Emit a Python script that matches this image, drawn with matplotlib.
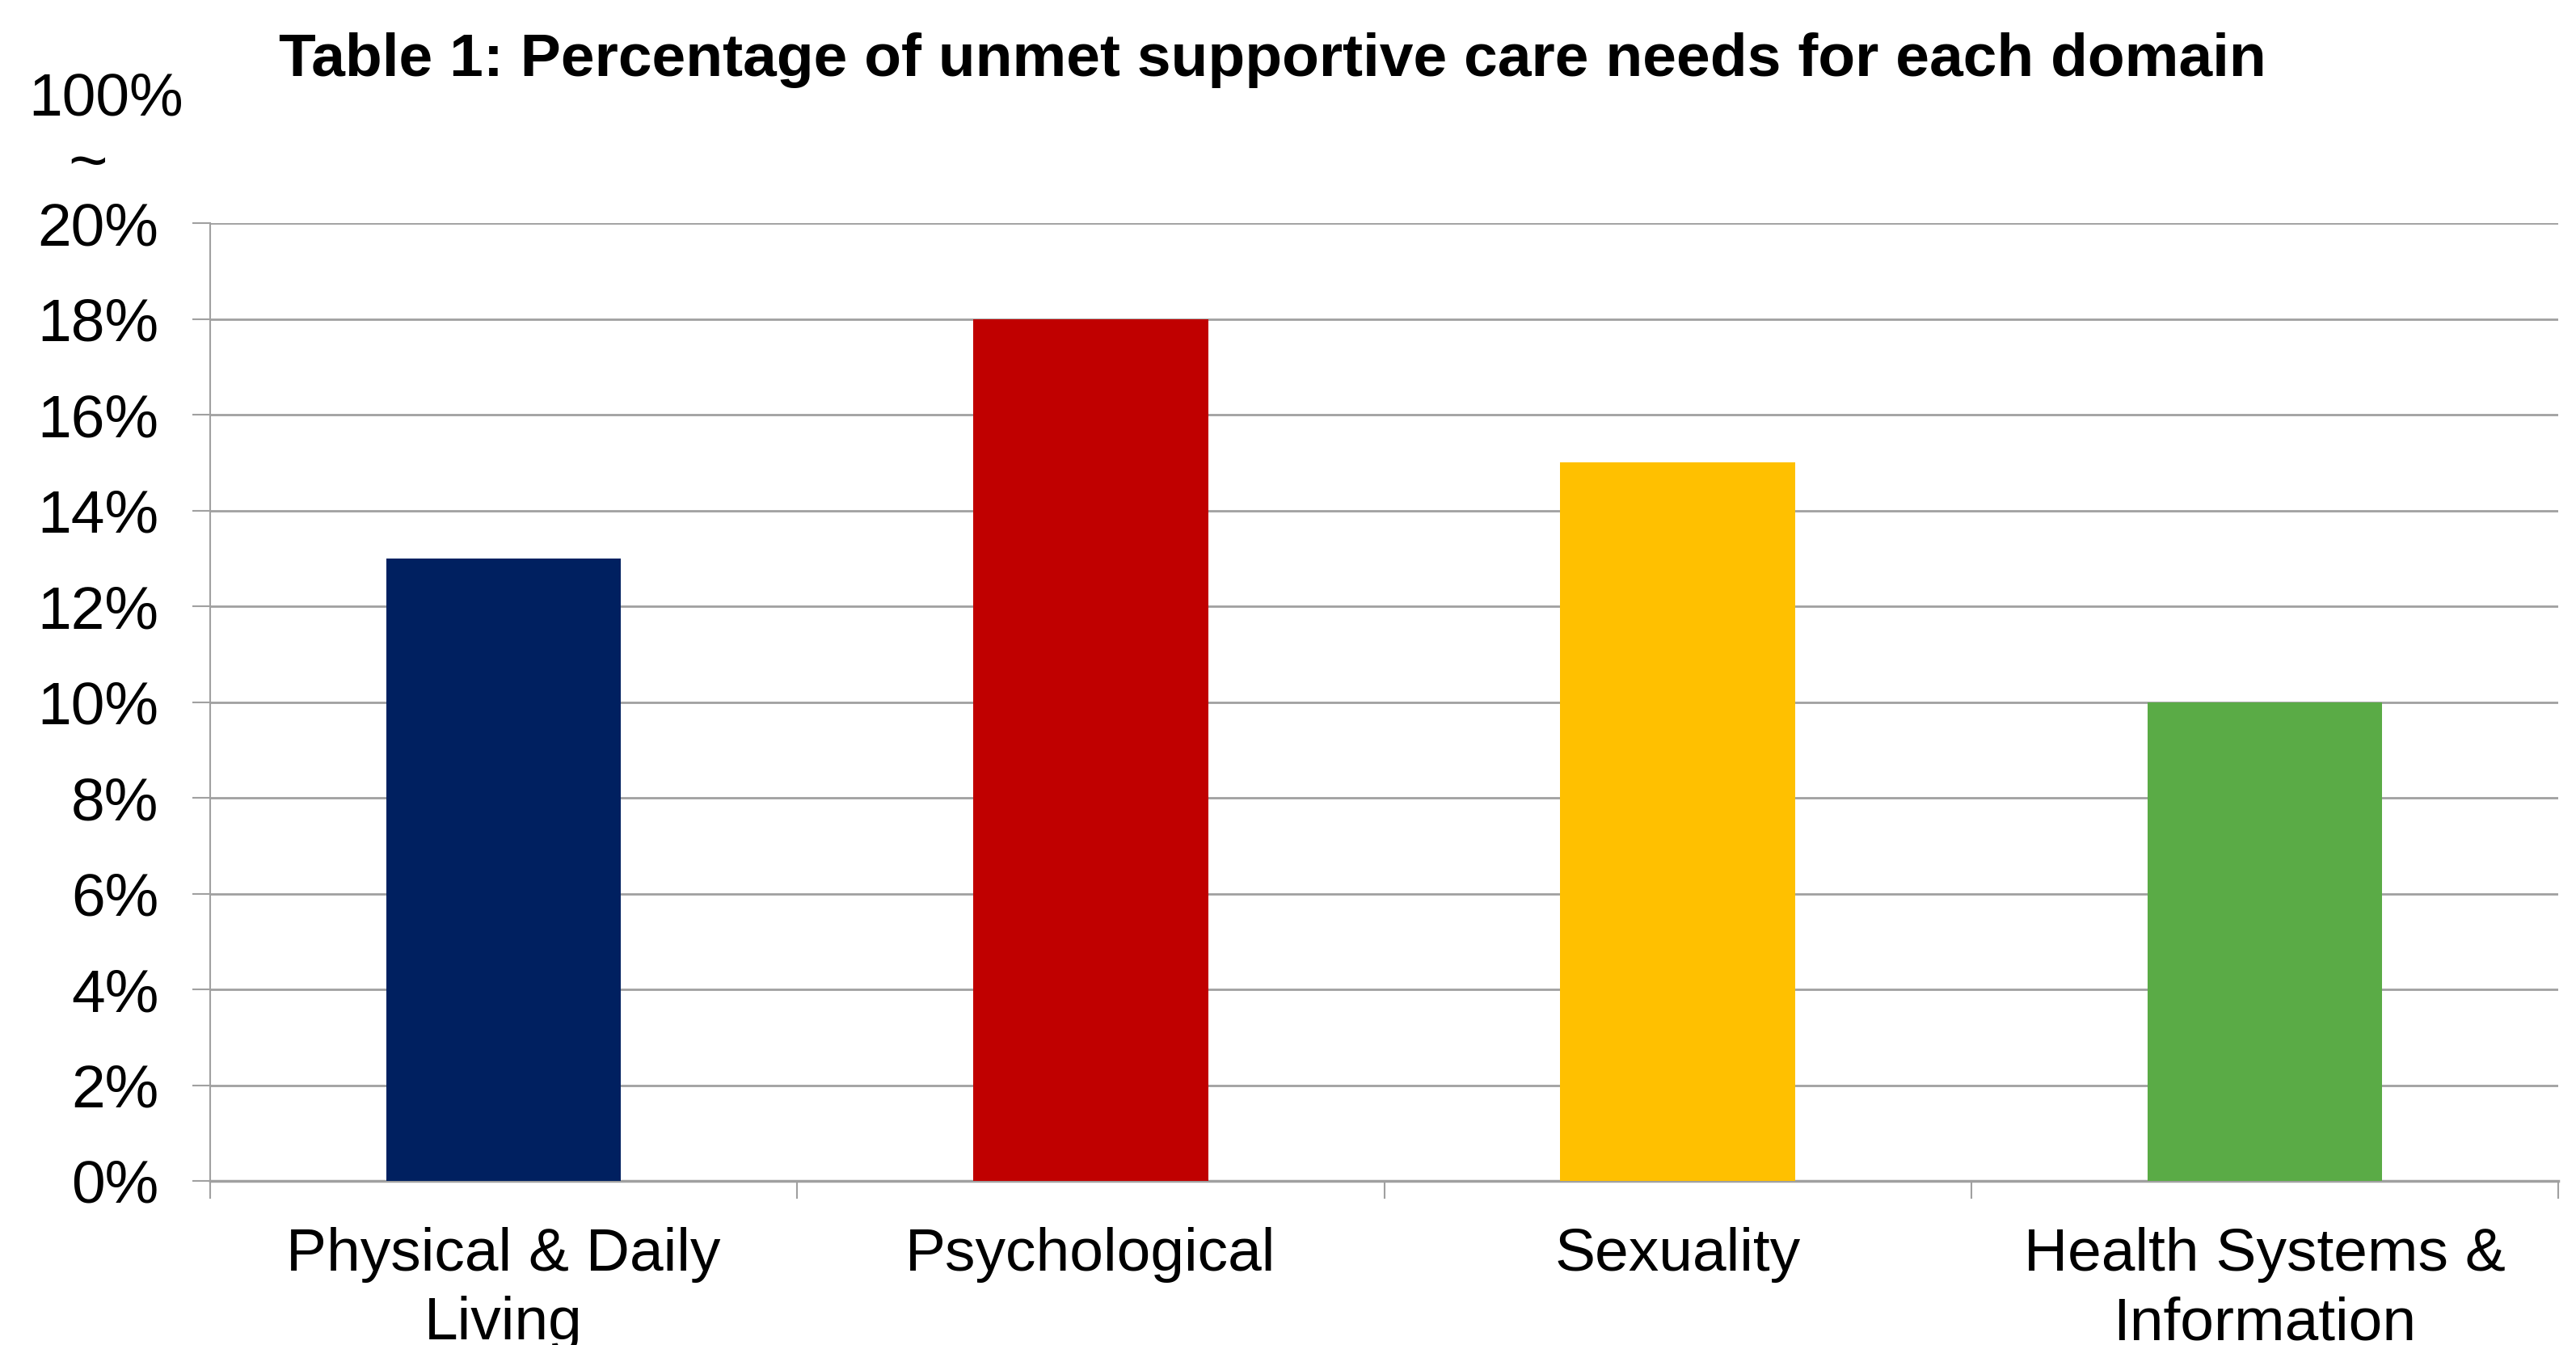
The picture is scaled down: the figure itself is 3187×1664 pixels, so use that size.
import matplotlib.pyplot as plt
import numpy as np

# data
domains = ["Physical & Daily\nLiving", "Psychological", "Sexuality",
           "Health Systems &\nInformation"]
unmet_pct = [13, 18, 15, 10]
bar_colors = ["#002060", "#C00000", "#FFC000", "#5AAB46"]
y_ticks = list(range(0, 21, 2))
y_labels = ["%d%%" % t for t in y_ticks]

plt.rcParams['font.family'] = ['Liberation Sans', 'DejaVu Sans']

fig = plt.figure(figsize=(31.87, 16.64), dpi=100)
ax = fig.add_axes([0.0816, 0.122, 0.9115, 0.712])

x = np.arange(len(domains))
ax.bar(x, unmet_pct, width=0.4, color=bar_colors, zorder=3)

ax.set_xlim(-0.5, len(domains) - 0.5)
ax.set_ylim(0, 20)
ax.set_yticks(y_ticks)
ax.set_yticklabels(y_labels, fontsize=54)
ax.set_xticks(x)
ax.set_xticklabels(domains, fontsize=54, linespacing=1.3)
ax.set_xticks(np.arange(len(domains) + 1) - 0.5, minor=True)

ax.tick_params(axis='x', which='major', length=0, pad=41)
ax.tick_params(axis='x', which='minor', length=16, width=1.5, color='#a0a0a0')
ax.tick_params(axis='y', length=16, width=1.5, color='#a0a0a0', pad=30)

ax.yaxis.grid(True, color='#a0a0a0', linewidth=2, zorder=0)
for s in ['top', 'right']:
    ax.spines[s].set_visible(False)
ax.spines['left'].set_color('#a0a0a0')
ax.spines['left'].set_linewidth(1.5)
ax.spines['bottom'].set_color('#a0a0a0')
ax.spines['bottom'].set_linewidth(2.5)

fig.text(0.494, 0.955, "Table 1: Percentage of unmet supportive care needs for each domain",
         ha='center', va='center', fontsize=54, fontweight='bold')
fig.text(0.041, 0.926, "100%", ha='center', va='center', fontsize=54)
fig.text(0.034, 0.877, "~", ha='center', va='center', fontsize=60)

fig.savefig("out.png", dpi=100)
